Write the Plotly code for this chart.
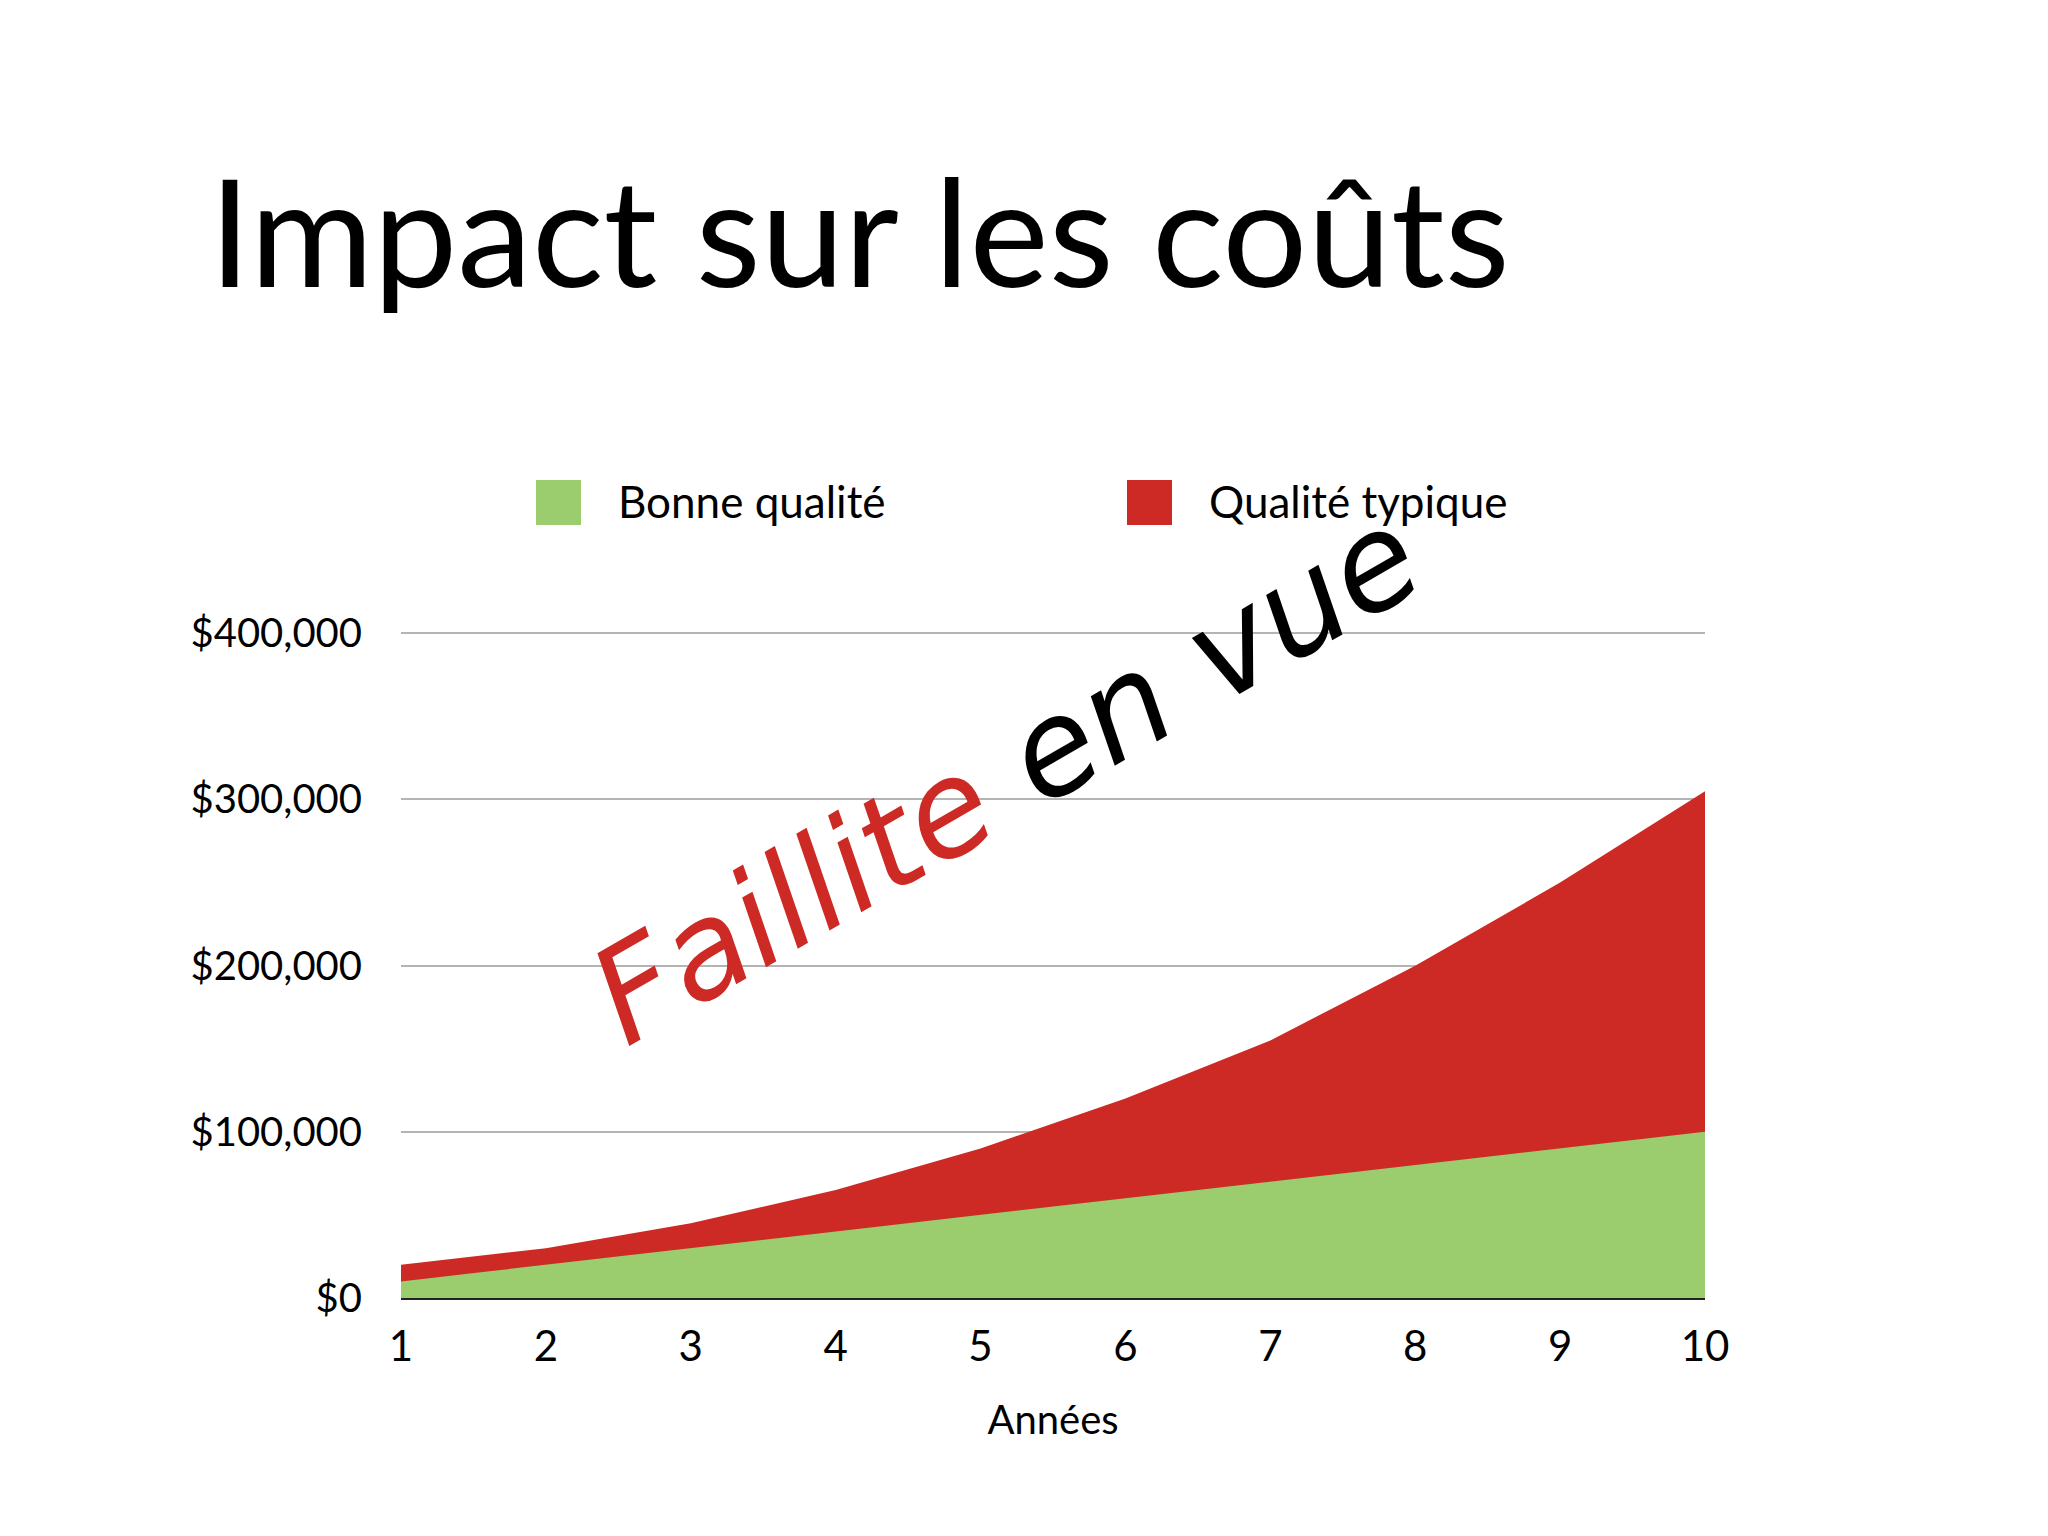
import plotly.graph_objects as go

annees = [1, 2, 3, 4, 5, 6, 7, 8, 9, 10]
bonne_qualite = [10000, 20000, 30000, 40000, 50000, 60000, 70000, 80000, 90000, 100000]
qualite_typique = [20000, 30000, 45000, 65000, 90000, 120000, 155000, 200000, 250000, 305000]
noms = ["Bonne qualité", "Qualité typique"]
couleurs = ["#9bcc6e", "#cd2a25"]
y_ticks = [0, 100000, 200000, 300000, 400000]
y_labels = ["$0", "$100,000", "$200,000", "$300,000", "$400,000"]

W, H = 2048, 1536
L, RIGHT, TOP, BOTTOM = 393, 1697, 622, 1290
font = "Lato, Open Sans, sans-serif"


def px(x):
    return (x - L) / (RIGHT - L)


def py(y):
    return (BOTTOM - y) / (BOTTOM - TOP)


fig = go.Figure()
# red drawn first (total), green over it
fig.add_trace(go.Scatter(x=annees, y=qualite_typique, name=noms[1], mode="lines",
                         line=dict(width=0, color=couleurs[1]), fill="tozeroy",
                         fillcolor=couleurs[1], showlegend=False))
fig.add_trace(go.Scatter(x=annees, y=bonne_qualite, name=noms[0], mode="lines",
                         line=dict(width=0, color=couleurs[0]), fill="tozeroy",
                         fillcolor=couleurs[0], showlegend=False))

fig.update_layout(
    width=W, height=H,
    margin=dict(l=L, r=W - RIGHT, t=TOP, b=H - BOTTOM),
    plot_bgcolor="white", paper_bgcolor="white",
    font=dict(family=font, color="black", size=40),
)
fig.update_xaxes(range=[1, 10], tickvals=annees, showgrid=False, zeroline=False,
                 showline=True, linecolor="#222222", linewidth=2,
                 tickfont=dict(size=42), ticklabelstandoff=11,
                 title=dict(text="Années", font=dict(size=40), standoff=37))
fig.update_yaxes(range=[0, 402000], tickvals=y_ticks, ticktext=y_labels,
                 showgrid=True, gridcolor="#b4b4b4", gridwidth=1.5, zeroline=False,
                 tickfont=dict(size=40), ticklabelstandoff=38)

# title
fig.add_annotation(text="Impact sur les coûts", xref="paper", yref="paper",
                   x=px(199), y=py(313), xanchor="left", yanchor="bottom",
                   showarrow=False, font=dict(size=150, family=font, color="black"))

# legend built from squares + labels
leg_x = [528, 1119]
for nom, c, lx in zip(noms, couleurs, leg_x):
    fig.add_shape(type="rect", xref="paper", yref="paper",
                  x0=px(lx), x1=px(lx + 45),
                  y0=py(517), y1=py(472),
                  fillcolor=c, line=dict(width=0))
    fig.add_annotation(text=nom, xref="paper", yref="paper",
                       x=px(lx + 80), y=py(493),
                       xanchor="left", yanchor="middle", showarrow=False,
                       font=dict(size=44, family=font, color="black"))

# rotated stamp
fig.add_annotation(text="<span style='color:#cd2a25'>Faillite</span> en vue",
                   xref="paper", yref="paper", x=px(997), y=py(768),
                   xanchor="center", yanchor="middle",
                   textangle=-30, showarrow=False,
                   font=dict(size=132, family="DejaVu Sans", color="black", style="italic"))

fig.write_html("out.html")
